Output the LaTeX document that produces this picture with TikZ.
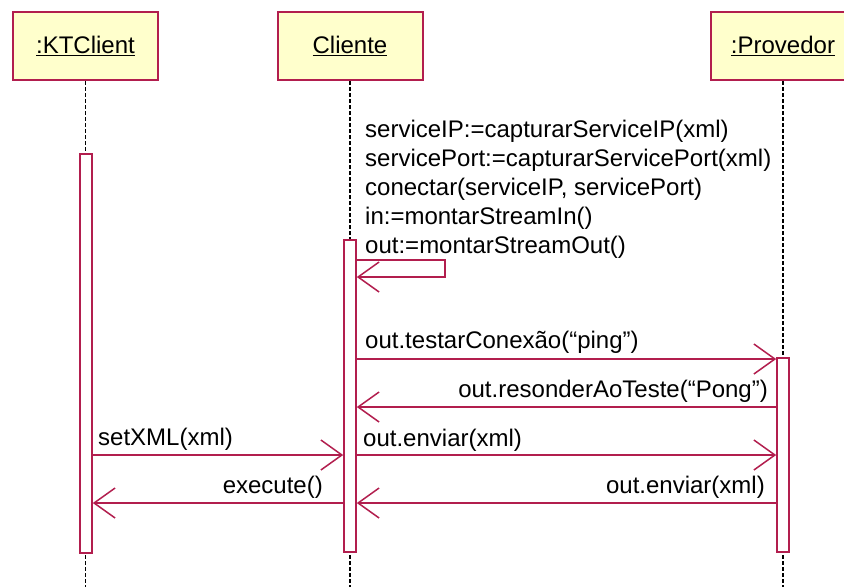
\documentclass[tikz,border=0pt]{standalone}
\usepackage{fontspec}
\setmainfont{Liberation Sans}
\usetikzlibrary{arrows.meta}
\definecolor{umlred}{RGB}{178,30,78}
\definecolor{umlpale}{RGB}{255,255,204}
\tikzset{
  obj/.style={draw=umlred, line width=2pt, fill=umlpale, minimum width=145pt, minimum height=68pt, font=\fontsize{24}{29}\selectfont},
  act/.style={draw=umlred, line width=1.6pt, fill=white, minimum width=12pt},
  life/.style={black, line width=1.6pt, dash pattern=on 4pt off 2pt},
  msg/.style={umlred, line width=1.5pt, -{Straight Barb[length=21pt, width=30pt]}},
  lbl/.style={font=\fontsize{24}{29}\selectfont, anchor=base west}
}
\begin{document}
\begin{tikzpicture}[x=1pt,y=-1pt]
\tikzstyle{every node}+=[inner sep=0pt]
\clip (0,0) rectangle (844,587);
\fill [white] (0,0) rectangle (844,587);
\node [obj] (kt) at (85.5,46) {\underline{:KTClient}};
\node [obj] (cl) at (350,46) {\underline{Cliente}};
\node [obj] (pv) at (783,46) {\underline{:Provedor}};
\draw [life] (kt.south) -- (kt.south |- 0,587);
\draw [life] (cl.south) -- (cl.south |- 0,587);
\draw [life] (pv.south) -- (pv.south |- 0,587);
\node [act, minimum height=399pt] (akt) at (86,353.5) {};
\node [act, minimum height=312pt] (acl) at (350,396) {};
\node [act, minimum height=194pt] (apv) at (783,455) {};
\node [lbl] (t1) at (365,137) {serviceIP:=capturarServiceIP(xml)};
\node [lbl] (t2) at (365,166) {servicePort:=capturarServicePort(xml)};
\node [lbl] (t3) at (365,195) {conectar(serviceIP, servicePort)};
\node [lbl] (t4) at (365,224) {in:=montarStreamIn()};
\node [lbl] (t5) at (365,253) {out:=montarStreamOut()};
\coordinate (s1) at (0,260);
\coordinate (s2) at (0,277);
\coordinate (y1) at (0,359);
\coordinate (y2) at (0,407);
\coordinate (y3) at (0,455);
\coordinate (y4) at (0,503);
\draw [msg] (acl.east |- s1) -- (445,260) -- (445,277) -- (acl.east |- s2);
\draw [msg] (acl.east |- y1) -- (apv.west |- y1);
\node [lbl] (m1) at (365,348) {out.testarConexão(“ping”)};
\draw [msg] (apv.west |- y2) -- (acl.east |- y2);
\node [lbl, anchor=base east] (m2) at (768,397) {out.resonderAoTeste(“Pong”)};
\draw [msg] (acl.east |- y3) -- (apv.west |- y3);
\node [lbl] (m3) at (363,446) {out.enviar(xml)};
\draw [msg] (apv.west |- y4) -- (acl.east |- y4);
\node [lbl, anchor=base east] (m4) at (765,493) {out.enviar(xml)};
\draw [msg] (akt.east |- y3) -- (acl.west |- y3);
\node [lbl] (m5) at (98,445) {setXML(xml)};
\draw [msg] (acl.west |- y4) -- (akt.east |- y4);
\node [lbl, anchor=base east] (m6) at (323,493) {execute()};
\end{tikzpicture}
\end{document}
